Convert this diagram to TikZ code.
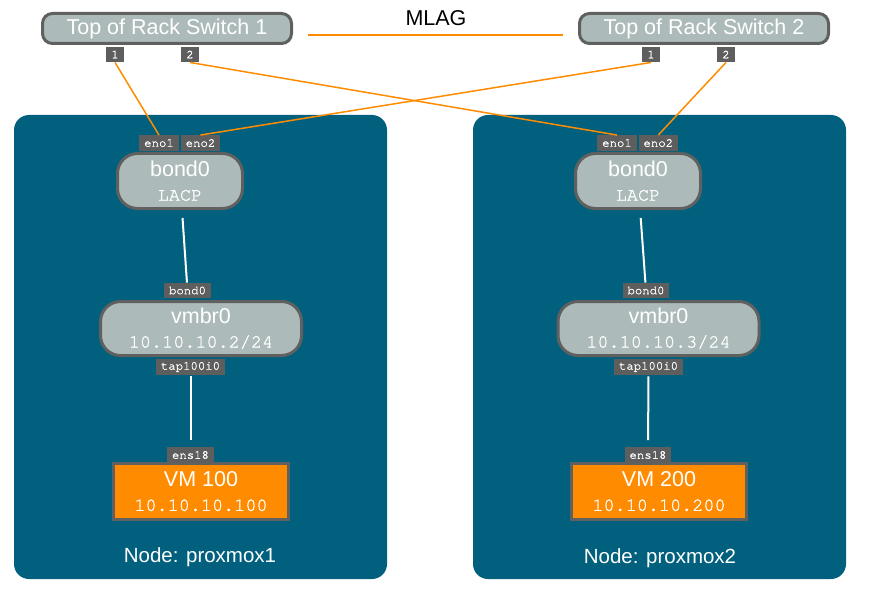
\documentclass[tikz,border=0pt]{standalone}
\usepackage{fontspec}
\newfontfamily\sansfam{Liberation Sans}
\newfontfamily\monofam[FakeBold=1.2]{TeX Gyre Cursor}
\definecolor{hostblue}{RGB}{0,96,125}
\definecolor{boxgray}{RGB}{172,187,186}
\definecolor{rimgray}{RGB}{96,96,96}
\definecolor{portgray}{RGB}{94,94,94}
\definecolor{vmorange}{RGB}{255,140,0}

\begin{document}
\begin{tikzpicture}[x=1pt, y=-1pt,
    host/.style={fill=hostblue, rounded corners=15pt, inner sep=0pt,
        minimum width=373pt, minimum height=464pt},
    switchbox/.style={draw=rimgray, line width=3pt, fill=boxgray,
        rounded corners=10pt, inner sep=0pt, minimum width=249pt,
        minimum height=30pt, text=white,
        font=\sansfam\fontsize{21.5}{24}\selectfont},
    ifbox/.style={draw=rimgray, line width=3pt, fill=boxgray,
        rounded corners=20pt, inner sep=0pt, text=white, align=center,
        font=\sansfam\fontsize{21.5}{24}\selectfont},
    vmbox/.style={draw=rimgray, line width=3pt, fill=vmorange,
        inner sep=0pt, minimum width=175pt, minimum height=56pt,
        text=white, align=center,
        font=\sansfam\fontsize{21.5}{24}\selectfont},
    port/.style={fill=portgray, text=white, inner xsep=5pt,
        inner ysep=0pt, minimum height=15.5pt,
        font=\monofam\fontsize{12.3}{14}\selectfont},
    hostname/.style={text=white, font=\sansfam\fontsize{20.5}{24}\selectfont},
    uplink/.style={draw=vmorange, line width=1.5pt},
    wire/.style={draw=white, line width=2pt}]
    \useasboundingbox (0,0) rectangle (873,591);
    \newcommand{\ipfont}{\monofam\fontsize{18.5}{24}\selectfont}

    % the two proxmox hosts
    \node[host] (hostA) at (200.5,347) {};
    \node[host] (hostB) at (659.5,347) {};

    % switches and MLAG
    \node[switchbox] (tor1) at (167,28.5) {Top of Rack Switch 1};
    \node[switchbox] (tor2) at (704,28.5) {Top of Rack Switch 2};
    \node[port] (tor1p1) at (115,54.5) {1};
    \node[port] (tor1p2) at (190,54.5) {2};
    \node[port] (tor2p1) at (651,54.5) {1};
    \node[port] (tor2p2) at (726,54.5) {2};
    \coordinate (mlagL) at (308,35);
    \coordinate (mlagR) at (563,35);
    \draw [draw=vmorange, line width=2.5pt] (mlagL) -- (mlagR);
    \node[font=\sansfam\fontsize{21.5}{24}\selectfont] (mlag) at (436,18)
        {MLAG};

    % host proxmox1
    \node[ifbox, minimum width=125pt, minimum height=55pt] (bondA)
        at (180,181) {bond0\\{\ipfont LACP}};
    \node[port] (enoA1) at (159,143) {eno1};
    \node[port] (enoA2) at (200.5,143) {eno2};
    \node[port] (bondlblA) at (187.5,290.5) {bond0};
    \node[ifbox, minimum width=201pt, minimum height=54pt] (vmbrA)
        at (201,328.5) {vmbr0\\{\ipfont 10.10.10.2/24}};
    \node[port] (tapA) at (190.5,367) {tap100i0};
    \node[port] (ensA) at (190.5,455) {ens18};
    \node[vmbox] (vmA) at (201,491.5) {VM 100\\{\ipfont 10.10.10.100}};
    \node[hostname] (nameA) at (200,557.5) {Node: proxmox1};

    % host proxmox2
    \node[ifbox, minimum width=125pt, minimum height=55pt] (bondB)
        at (638,181) {bond0\\{\ipfont LACP}};
    \node[port] (enoB1) at (617,143) {eno1};
    \node[port] (enoB2) at (658.3,143) {eno2};
    \node[port] (bondlblB) at (646,290.5) {bond0};
    \node[ifbox, minimum width=201pt, minimum height=54pt] (vmbrB)
        at (658.5,328.5) {vmbr0\\{\ipfont 10.10.10.3/24}};
    \node[port] (tapB) at (648.5,367) {tap100i0};
    \node[port] (ensB) at (648,455) {ens18};
    \node[vmbox] (vmB) at (659,491.5) {VM 200\\{\ipfont 10.10.10.200}};
    \node[hostname] (nameB) at (660,558) {Node: proxmox2};

    % links
    \draw [uplink] (tor1p1.south) -- (enoA1.north);
    \draw [uplink] (tor1p2.south) -- (enoB1.north);
    \draw [uplink] (tor2p1.south) -- (enoA2.north);
    \draw [uplink] (tor2p2.south) -- (enoB2.north);
    \draw [wire, shorten <=8pt] (bondA) -- (bondlblA);
    \draw [wire, shorten <=8pt] (bondB) -- (bondlblB);
    \draw [wire, shorten <=1.5pt, shorten >=7pt] (tapA) -- (ensA);
    \draw [wire, shorten <=1.5pt, shorten >=7pt] (tapB) -- (ensB);
\end{tikzpicture}
\end{document}
